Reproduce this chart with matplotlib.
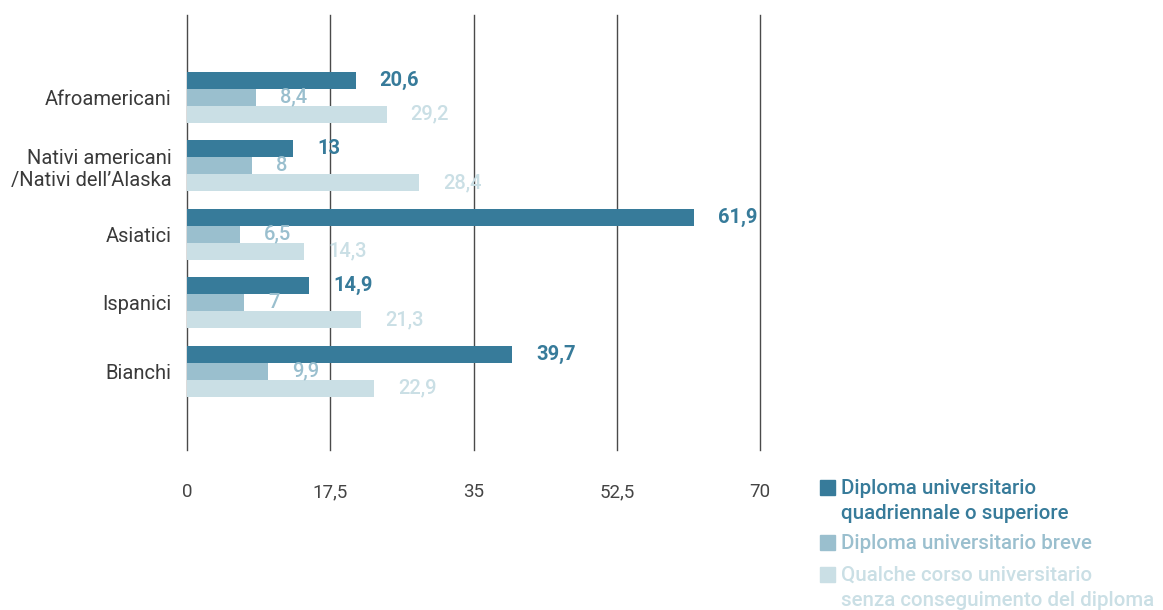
import numpy as np
import matplotlib.pyplot as plt
from matplotlib.patches import Rectangle

plt.rcParams["font.family"] = ["Roboto", "DejaVu Sans"]

# Data
categories = ["Afroamericani", "Nativi americani\n/Nativi dell\u2019Alaska", "Asiatici", "Ispanici", "Bianchi"]
quadriennale = [20.6, 13, 61.9, 14.9, 39.7]
breve = [8.4, 8, 6.5, 7, 9.9]
qualche_corso = [29.2, 28.4, 14.3, 21.3, 22.9]
# bar lengths as drawn in the source (the Afroamericani bar is shorter than its label)
qualche_corso_bars = [24.4, 28.4, 14.3, 21.3, 22.9]
series_labels = [
    "Diploma universitario\nquadriennale o superiore",
    "Diploma universitario breve",
    "Qualche corso universitario\nsenza conseguimento del diploma",
]
xticks = [0, 17.5, 35, 52.5, 70]

colors = ["#377b9a", "#9abfce", "#cadfe5"]
weights = ["bold", "medium", "medium"]

fig = plt.figure(figsize=[11.63, 6.10], dpi=100)
ax = fig.add_axes([0.1608, 0.2623, 0.4927, 0.7131])

y = np.arange(len(categories))
h = 0.25
series = [(quadriennale, quadriennale), (breve, breve), (qualche_corso_bars, qualche_corso)]
for i, (bars, labels) in enumerate(series):
    pos = y + (i - 1) * h
    ax.barh(pos, bars, height=h, color=colors[i], zorder=3)
    for p, b, v in zip(pos, bars, labels):
        txt = f"{v:g}".replace(".", ",")
        ax.annotate(txt, (b, p), xytext=(24, 0), textcoords="offset pixels",
                    ha="left", va="center", fontsize=14.5, color=colors[i],
                    fontweight=weights[i], zorder=4)

ax.set_xlim(0, 70)
ax.set_ylim(5.15, -1.2)
ax.set_xticks(xticks)
ax.set_xticklabels([f"{t:g}".replace(".", ",") for t in xticks], fontsize=13.5,
                   color="#444444")
ax.tick_params(axis="x", length=0, pad=24)
ax.set_yticks(y)
ax.set_yticklabels(categories, fontsize=14.5, color="#3a3a3a")
ax.tick_params(axis="y", length=0, pad=11)
for lbl in ax.get_yticklabels():
    lbl.set_multialignment("right")
for s in ax.spines.values():
    s.set_visible(False)
for t in xticks:
    ax.axvline(t, color="#4a4a4a", lw=1, zorder=2, clip_on=False)

# Legend
ypos = [488, 543, 575]
for i, lab in enumerate(series_labels):
    yy = 1 - ypos[i] / 610
    fig.patches.append(Rectangle((820 / 1163, yy - 7 / 610), 15 / 1163, 15 / 610,
                                 transform=fig.transFigure, color=colors[i]))
    fig.text(841 / 1163, yy + 9 / 610, lab, ha="left", va="top", fontsize=14.8,
             color=colors[i], fontweight="medium", linespacing=1.37)

fig.savefig("out.png", dpi=100)
